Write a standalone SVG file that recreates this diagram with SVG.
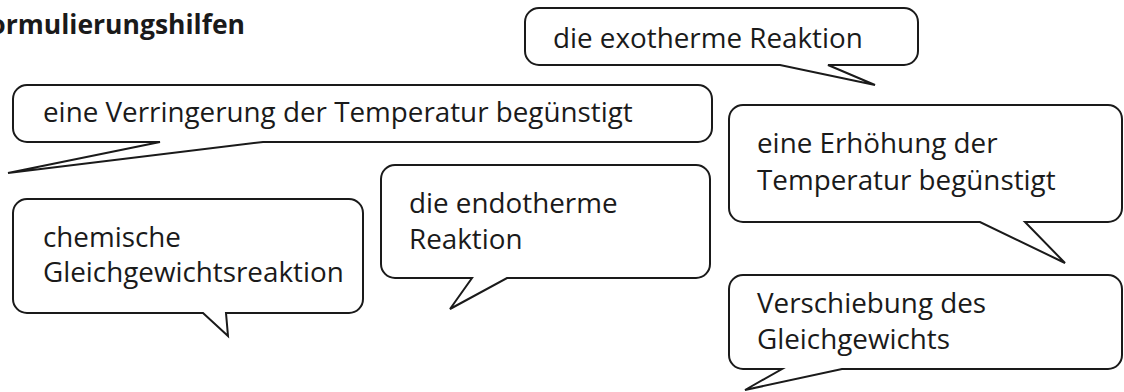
<svg xmlns="http://www.w3.org/2000/svg" width="1124" height="392" viewBox="0 0 1124 392">
<style>
.b{fill:#fff;stroke:#1a1a1a;stroke-width:2;stroke-linejoin:miter}
.t{font-family:"Open Sans","Noto Sans",sans-serif;font-size:27.8px;fill:#1a1a1a}
.h{font-family:"Open Sans","Noto Sans",sans-serif;font-size:26.5px;font-weight:bold;fill:#1a1a1a}
</style>
<rect width="1124" height="392" fill="#fff"/>
<text class="h" x="245" y="34" text-anchor="end">Formulierungshilfen</text>
<g id="connectors"></g>
<g id="exotherm">
<path class="b" d="M539,8 H904 A14,14 0 0 1 918,22 V51 A14,14 0 0 1 904,65 H828 L875,85 L780,65 H539 A14,14 0 0 1 525,51 V22 A14,14 0 0 1 539,8 Z"/>
<text class="t" x="553" y="48">die exotherme Reaktion</text>
</g>
<g id="verringerung">
<path class="b" d="M27,85 H698 A14,14 0 0 1 712,99 V128 A14,14 0 0 1 698,142 H263 L8,173 L160,142 H27 A14,14 0 0 1 13,128 V99 A14,14 0 0 1 27,85 Z"/>
<text class="t" x="43" y="122">eine Verringerung der Temperatur begünstigt</text>
</g>
<g id="erhoehung">
<path class="b" d="M743,105 H1108 A14,14 0 0 1 1122,119 V208 A14,14 0 0 1 1108,222 H1025 L1065,263 L980,222 H743 A14,14 0 0 1 729,208 V119 A14,14 0 0 1 743,105 Z"/>
<text class="t" x="757" y="153">eine Erhöhung der</text>
<text class="t" x="757" y="190">Temperatur begünstigt</text>
</g>
<g id="gleichgewichtsreaktion">
<path class="b" d="M27,199 H349 A14,14 0 0 1 363,213 V299 A14,14 0 0 1 349,313 H226 L228,336 L203,313 H27 A14,14 0 0 1 13,299 V213 A14,14 0 0 1 27,199 Z"/>
<text class="t" x="43" y="247">chemische</text>
<text class="t" x="43" y="282">Gleichgewichtsreaktion</text>
</g>
<g id="endotherm">
<path class="b" d="M395,165 H696 A14,14 0 0 1 710,179 V264 A14,14 0 0 1 696,278 H507 L450,309 L472,278 H395 A14,14 0 0 1 381,264 V179 A14,14 0 0 1 395,165 Z"/>
<text class="t" x="409" y="213">die endotherme</text>
<text class="t" x="409" y="249">Reaktion</text>
</g>
<g id="verschiebung">
<path class="b" d="M743,275 H1108 A14,14 0 0 1 1122,289 V355 A14,14 0 0 1 1108,369 H842 L745,390 L782,369 H743 A14,14 0 0 1 729,355 V289 A14,14 0 0 1 743,275 Z"/>
<text class="t" x="757" y="313">Verschiebung des</text>
<text class="t" x="757" y="349">Gleichgewichts</text>
</g>
</svg>
